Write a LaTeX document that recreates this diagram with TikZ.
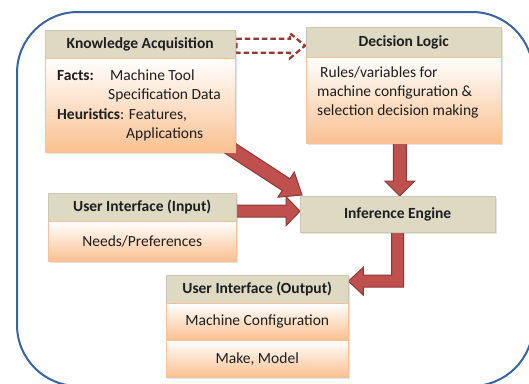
\documentclass[tikz,border=0pt]{standalone}
\usepackage{fontspec}
\setmainfont{Carlito}
\usetikzlibrary{calc,shadows}
\pgfdeclarelayer{bg}
\pgfsetlayers{bg,main}

\definecolor{hdrfill}{HTML}{DDD9C3}
\definecolor{hdrline}{HTML}{CCC7AE}
\definecolor{bodyorange}{HTML}{FAC090}
\definecolor{bodyline}{HTML}{F7C29A}
\definecolor{arrowfill}{HTML}{C0504D}
\definecolor{arrowline}{HTML}{8C3836}
\definecolor{dashline}{HTML}{953735}
\definecolor{frameblue}{HTML}{3A64A0}
\definecolor{textdark}{HTML}{1E1E1E}

% block arrow: style, start, tip, shaft half width, head half width, head length
\newcommand\blockarrow[6]{%
  \coordinate (bahead) at ($(#3)!#6!(#2)$);
  \draw[#1] ($(#2)!#4!90:(#3)$) -- ($(bahead)!#4!90:(#3)$)
    -- ($(bahead)!#5!90:(#3)$) -- (#3) -- ($(bahead)!#5!-90:(#3)$)
    -- ($(bahead)!#4!-90:(#3)$) -- ($(#2)!#4!-90:(#3)$) -- cycle;
}

\tikzset{
  txtfont/.style={font=\fontsize{15.5}{19}\selectfont},
  boxshadow/.style={drop shadow={shadow xshift=1.5pt, shadow yshift=-2pt, opacity=0.22}},
  hdr/.style={draw=hdrline, line width=0.4pt, fill=hdrfill, inner sep=0pt,
    font=\bfseries\fontsize{15.5}{19}\selectfont, text=textdark,
    anchor=north west, boxshadow},
  bodybox/.style={draw=bodyline, line width=0.5pt, top color=white,
    middle color=bodyorange!35, bottom color=bodyorange, inner sep=0pt,
    txtfont, text=textdark, anchor=north west, boxshadow},
  txt/.style={inner sep=0pt, txtfont, text=textdark, anchor=base west},
  solidarrow/.style={fill=arrowfill, draw=arrowline, line width=1pt, line join=miter},
  dasharrow/.style={draw=dashline, line width=2.2pt, dash pattern=on 5.5pt off 3pt,
    line join=miter},
}

\begin{document}
\begin{tikzpicture}[x=1pt,y=-1pt]
\useasboundingbox (0,0) rectangle (529,383);
\begin{pgfonlayer}{bg}
  \fill[white] (0,0) rectangle (529,383);
\end{pgfonlayer}
\clip (0,0) rectangle (529,383);

% outer frame
\draw[frameblue, line width=2pt, rounded corners=61pt] (17,12) rectangle (533,386);

% knowledge acquisition
\node[hdr, minimum width=190pt, minimum height=28pt] (ka) at (45,30) {Knowledge Acquisition};
\node[bodybox, minimum width=190pt, minimum height=94pt] (kab) at (45,58) {};
\node[txt] (kafacts) at (57,80) {\textbf{Facts:}};
\node[txt] (kamt) at (110,80) {Machine Tool};
\node[txt] (kaspec) at (108,99.5) {Specification Data};
\node[txt] (kaheur) at (57,119) {\textbf{Heuristics}: Features,};
\node[txt] (kaapp) at (126,138.5) {Applications};

% decision logic
\node[hdr, minimum width=195pt, minimum height=30pt] (dl) at (306,27) {Decision Logic};
\node[bodybox, minimum width=195pt, minimum height=86pt] (dlb) at (306,57) {};
\node[txt] (dlr1) at (320,77) {Rules/variables for};
\node[txt] (dlr2) at (317,96) {machine configuration \&};
\node[txt] (dlr3) at (317,115) {selection decision making};

% inference engine
\node[hdr, minimum width=195pt, minimum height=36pt] (ie) at (300,196) {Inference Engine};

% user interface (input)
\node[hdr, minimum width=188pt, minimum height=28pt] (uiin) at (48,193) {User Interface (Input)};
\node[bodybox, minimum width=188pt, minimum height=40pt] (uiinb) at (48,221) {Needs/Preferences};

% user interface (output)
\node[hdr, minimum width=182pt, minimum height=28pt] (uiout) at (166,275) {User Interface (Output)\hspace{15pt}};
\node[bodybox, minimum width=182pt, minimum height=37pt] (uioutb1) at (166,303) {Machine Configuration};
\node[bodybox, minimum width=182pt, minimum height=37pt] (uioutb2) at (166,340) {Make, Model};

% connectors
\coordinate (dashfrom) at ($(ka.east)+(1,1.5)$);
\coordinate (dashto) at ($(dashfrom -| dl.west)+(-1,0)$);
\coordinate (diagfrom) at ($(kab.south east)+(-8,-6)$);
\coordinate (diagto) at ($(ie.north west)+(2,-1)$);
\coordinate (downfrom) at ($(dlb.south)+(-4,-2)$);
\coordinate (downto) at (downfrom |- ie.north);
\coordinate (infrom) at ($(uiin.east)+(-2,4)$);
\coordinate (into) at (infrom -| ie.west);
\coordinate (elbowtip) at ($(uiout.east)+(0,-8)$);

\begin{pgfonlayer}{bg}
  \blockarrow{dasharrow}{dashfrom}{dashto}{7pt}{12.5pt}{15pt}
  \blockarrow{solidarrow}{diagfrom}{diagto}{7pt}{15pt}{19pt}
  \blockarrow{solidarrow}{downfrom}{downto}{6.5pt}{15pt}{15pt}
  \blockarrow{solidarrow}{infrom}{into}{6pt}{14.5pt}{14pt}
  \draw[solidarrow] ($(ie.south)+(-6,-2)$) -- ($(ie.south |- elbowtip)+(-6,-6)$)
    -- ($(elbowtip)+(15,-6)$) -- ($(elbowtip)+(15,-14)$) -- (elbowtip)
    -- ($(elbowtip)+(15,14)$) -- ($(elbowtip)+(15,6)$)
    -- ($(ie.south |- elbowtip)+(6,6)$) -- ($(ie.south)+(6,-2)$) -- cycle;
\end{pgfonlayer}
\end{tikzpicture}
\end{document}
